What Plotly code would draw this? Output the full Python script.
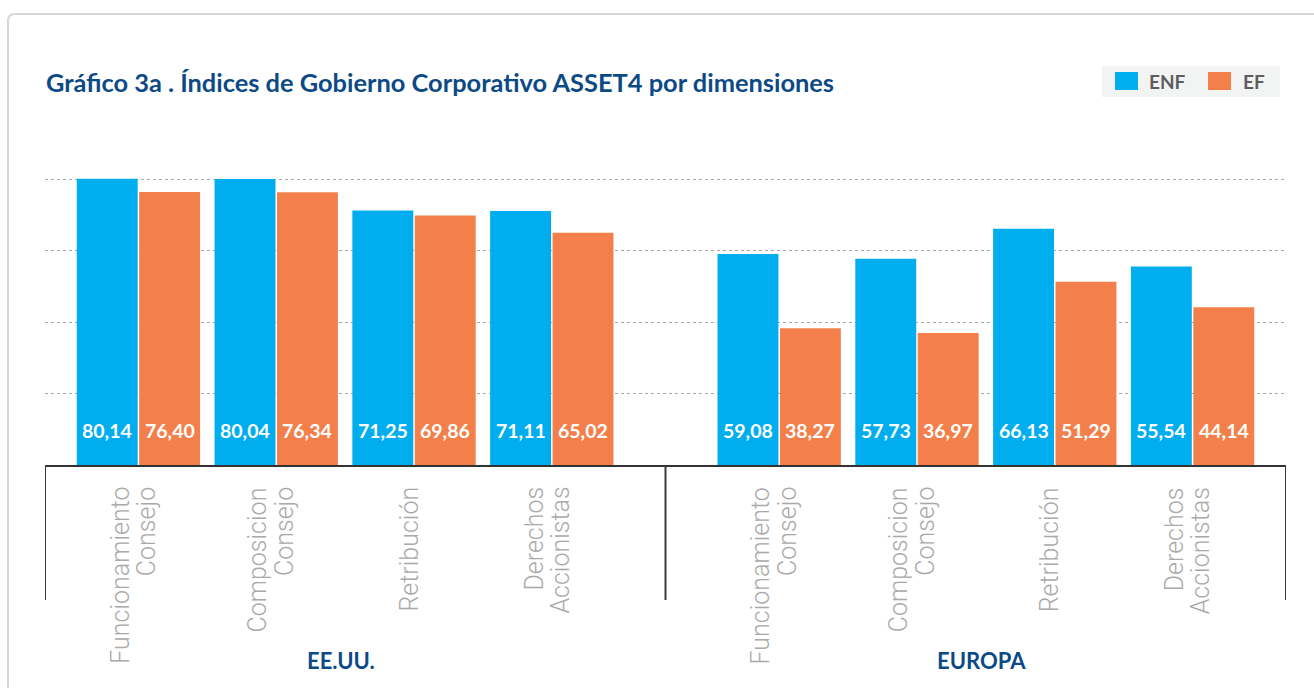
import plotly.graph_objects as go

# ---------------- data ----------------
groups = ["EE.UU.", "EUROPA"]
dimensions = ["Funcionamiento\nConsejo", "Composicion\nConsejo", "Retribución", "Derechos\nAccionistas"]
series_names = ["ENF", "EF"]
enf_eeuu = [80.14, 80.04, 71.25, 71.11]
ef_eeuu = [76.40, 76.34, 69.86, 65.02]
enf_europa = [59.08, 57.73, 66.13, 55.54]
ef_europa = [38.27, 36.97, 51.29, 44.14]
grid_values = [20, 40, 60, 80]
title_text = "Gráfico 3a . Índices de Gobierno Corporativo ASSET4 por dimensiones"

# ---------------- layout constants ----------------
W, H = 1314, 688
L, R, T, B = 45, 28, 156, 223
PW, PH = W - L - R, H - T - B
BASE = H - B


def px_x(px):
    return (px - L) / PW


def px_y(py):
    return (BASE - py) / PH


BLUE = "#00aeef"
ORANGE = "#f3804a"
NAVY = "#0c4a86"
GRAYTXT = "#a9a9a9"
GROUP_GAP = 0.65
EDGE = 0.678
BARGAP = 0.094
BARGROUPGAP = 0.024
colors = [BLUE, ORANGE]

positions = []
for g in range(len(groups)):
    for i in range(len(dimensions)):
        positions.append(g * (len(dimensions) + GROUP_GAP) + i)

series_values = [enf_eeuu + enf_europa, ef_eeuu + ef_europa]

fig = go.Figure()
for name, vals, col in zip(series_names, series_values, colors):
    fig.add_trace(go.Bar(x=positions, y=vals, name=name, marker=dict(color=col, line=dict(width=0)),
                         showlegend=False, hoverinfo="name+y"))

annotations = []
# value labels inside bars
slot = (1 - BARGAP) / 2
for j, vals in enumerate(series_values):
    off = (j - 0.5) * slot
    for p, v in zip(positions, vals):
        annotations.append(dict(x=p + off, y=0, xref="x", yref="y", yanchor="middle", yshift=35,
                                text=f"{v:.2f}".replace(".", ","), showarrow=False,
                                font=dict(family="Lato", size=19.5, color="white", weight=700)))

# category labels (rotated)
LINE = 26.5
for g in range(len(groups)):
    for i, lab in enumerate(dimensions):
        p = positions[g * len(dimensions) + i]
        lines = lab.split("\n")
        n = len(lines)
        for k, ln in enumerate(lines):
            annotations.append(dict(x=p, y=0, xref="x", yref="y", xanchor="center", yanchor="top",
                                    xshift=(k - (n - 1) / 2) * LINE - 5, yshift=-20,
                                    text=ln, textangle=-90, showarrow=False,
                                    font=dict(family="Roboto", size=25, color=GRAYTXT, weight=300)))
    gp = positions[g * len(dimensions):(g + 1) * len(dimensions)]
    annotations.append(dict(x=sum(gp) / len(gp), y=px_y(660), xref="x", yref="paper", xanchor="center",
                            yanchor="middle", xshift=-4, text=groups[g], showarrow=False,
                            font=dict(family="Lato", size=22, color=NAVY, weight=700)))

# legend (manual)
legend_items = [(series_names[0], colors[0], 1115, 1147), (series_names[1], colors[1], 1208, 1241)]
shapes = [dict(type="rect", xref="paper", yref="paper", x0=px_x(1102), x1=px_x(1280), y0=px_y(97), y1=px_y(66),
               fillcolor="#f2f3f3", line=dict(width=0), layer="below")]
for name, col, sx, tx in legend_items:
    shapes.append(dict(type="rect", xref="paper", yref="paper", x0=px_x(sx), x1=px_x(sx + 23),
                       y0=px_y(90), y1=px_y(72), fillcolor=col, line=dict(width=0)))
    annotations.append(dict(x=px_x(tx), y=px_y(81.5), xref="paper", yref="paper", xanchor="left",
                            yanchor="middle", text=name, showarrow=False,
                            font=dict(family="Lato", size=19, color="#5e5e5e", weight=700)))

# group dividers
bounds = [positions[0] - EDGE, (positions[3] + positions[4]) / 2, positions[-1] + EDGE]
for bx in bounds:
    shapes.append(dict(type="line", xref="x", yref="paper", x0=bx, x1=bx, y0=0, y1=px_y(600),
                       line=dict(color="#3a3a3a", width=2)))

# card border (rounded top-left corner)
r = 7
cx0, cy0 = 8, 14
path = (f"M {px_x(cx0)},{px_y(H + 20)} L {px_x(cx0)},{px_y(cy0 + r)} "
        f"Q {px_x(cx0)},{px_y(cy0)} {px_x(cx0 + r)},{px_y(cy0)} L {px_x(W + 20)},{px_y(cy0)}")
shapes.append(dict(type="path", xref="paper", yref="paper", path=path,
                   line=dict(color="#d6d6d6", width=2), layer="below"))

fig.update_layout(
    width=W, height=H,
    margin=dict(l=L, r=R, t=T, b=B),
    paper_bgcolor="white", plot_bgcolor="white",
    barmode="group", bargap=BARGAP, bargroupgap=BARGROUPGAP,
    title=dict(text=title_text, x=46 / W, xanchor="left", xref="container", y=1 - 83 / H, yanchor="middle",
               font=dict(family="Lato", size=25.4, color=NAVY, weight=700)),
    xaxis=dict(range=[bounds[0], bounds[-1]], showticklabels=False, showgrid=False, zeroline=False,
               showline=True, linecolor="#333333", linewidth=2, ticks=""),
    yaxis=dict(range=[0, 86.5], tickvals=grid_values, showticklabels=False, showgrid=True,
               gridcolor="#a8a8a8", griddash="dot", gridwidth=1, zeroline=False, showline=False),
    annotations=annotations,
    shapes=shapes,
    showlegend=False,
)

fig.write_html("out.html", config={"displayModeBar": False},
               post_script="document.body.style.margin='0';document.body.style.overflow='hidden';")
